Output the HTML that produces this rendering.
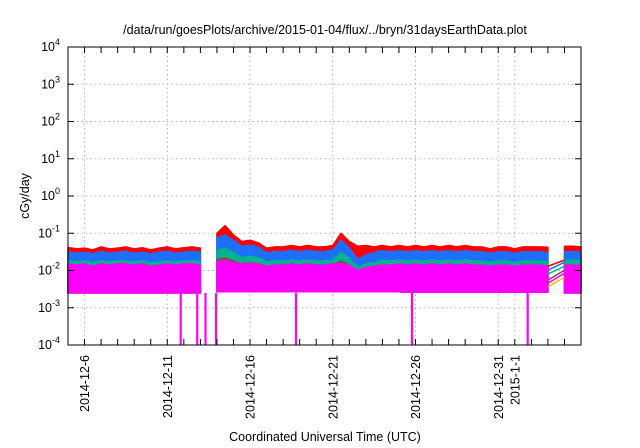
<!DOCTYPE html>
<html><head><meta charset="utf-8"><style>
html,body{margin:0;padding:0;background:#fff;}
svg{display:block;font-family:"Liberation Sans",sans-serif;}
</style></head><body>
<svg id="chart" width="640" height="448">
<text x="325" y="34" text-anchor="middle" font-size="12.5">/data/run/goesPlots/archive/2015-01-04/flux/../bryn/31daysEarthData.plot</text>
<text x="325" y="441" text-anchor="middle" font-size="12.5">Coordinated Universal Time (UTC)</text>
<text transform="translate(29,196) rotate(-90)" text-anchor="middle" font-size="12.5">cGy/day</text>
<g id="grid"></g><g id="series"></g><g id="axes"></g>
</svg>
<script>
const days=[0,0.5,1,1.5,2,2.5,3,3.5,4,4.5,5,5.5,6,6.5,7,7.5,8,8.5,9,9.5,10,10.5,11,11.5,12,12.5,13,13.5,14,14.5,15,15.5,16,16.5,17,17.5,18,18.5,19,19.5,20,20.5,21,21.5,22,22.5,23,23.5,24,24.5,25,25.5,26,26.5,27,27.5,28,28.5,29,30,30.5,31];
const red=[.042,.038,.04,.036,.043,.038,.04,.043,.038, .041,.036,.04,.043,.038,.041,.043,.04, null, .1,.16,.09,.06,.065,.055,.04, .043,.043,.047,.043,.047,.043,.043,.047, .1,.06,.045,.047,.043,.047,.043,.047, .043,.047,.043,.047,.043,.047,.043,.047, .043,.043,.038,.043,.043,.038,.043,.043,.043,.042, .045,.045,.043];
const blue=[.032,.029,.031,.028,.033,.029,.031,.033,.029, .031,.028,.031,.033,.029,.031,.033,.031, null, .075,.09,.065,.045,.048,.042,.03, .032,.032,.035,.032,.035,.032,.032,.035, .065,.04,.02,.026,.03,.034,.032,.034, .032,.034,.032,.034,.032,.034,.032,.034, .032,.032,.029,.032,.032,.029,.032,.032,.032,.03, .032,.032,.031];
const teal=[.018,.017,.018,.016,.018,.017,.018,.018,.017, .018,.016,.017,.018,.017,.018,.018,.017, null, .035,.04,.03,.022,.024,.022,.017, .018,.018,.019,.018,.019,.018,.018,.019, .03,.021,.012,.015,.016,.019,.018,.019, .018,.019,.018,.019,.018,.019,.018,.019, .018,.018,.016,.018,.018,.016,.018,.018,.018,.017, .019,.019,.018];
const brown=[.013,.012,.013,.012,.013,.012,.013,.013,.012, .013,.012,.012,.013,.012,.013,.013,.012, null, .02,.022,.018,.015,.016,.015,.012, .013,.013,.014,.013,.014,.013,.013,.014, .018,.014,.009,.011,.012,.013,.013,.014, .013,.014,.013,.014,.013,.014,.013,.014, .013,.013,.012,.013,.013,.012,.013,.013,.013,.012, .014,.014,.013];
const magTop=[.015,.014,.015,.013,.015,.014,.015,.015,.014, .015,.013,.014,.015,.014,.015,.015,.014, null, .017,.018,.016,.015,.015,.015,.013, .014,.014,.015,.014,.015,.014,.014,.015, .015,.014,.01,.012,.013,.014,.014,.015, .014,.015,.014,.015,.014,.015,.014,.015, .014,.014,.013,.014,.014,.013,.014,.014,.014,.013, .014,.014,.014];
const magBottom=[.0025,.0025,.0025,.0025,.0025,.0025,.0025,.0025,.0025, .0025,.0025,.0025,.0025,.0025,.0025,.0025,.0025, null, .0027,.0027,.0027,.0027,.0027,.0027,.0027, .0027,.0027,.0027,.0027,.0027,.0027,.0027,.0027, .0027,.0027,.0027,.0027,.0027,.0027,.0027,.0027, .0026,.0026,.0026,.0026,.0026,.0026,.0026,.0026, .0026,.0026,.0026,.0026,.0026,.0026,.0026,.0026,.0026,.0026, .0025,.0025,.0025];
// connector lines across the Jan 3-4 data gap (start at day 29, end at day 30)
const gapColors=['#ff0000','#1f6fff','#00b38f','#8a4a5e','#ff00ff','#e6c800'];
const gapStart=[.013,.0102,.008,.0055,.0045,.0036];
const gapEnd=[.019,.0166,.013,.0102,.0085,.0066];
const spikeDays=[6.81,7.81,8.31,8.95,13.78,20.79,27.78];
const spikeValue=[0.0001,0.0001,0.0001,0.0001,0.0001,0.0001,0.0001];
const yTickExp=[-4,-3,-2,-1,0,1,2,3,4];
const xLabels=["2014-12-6","2014-12-11","2014-12-16","2014-12-21","2014-12-26","2014-12-31","2015-1-1"];
const xLabelDays=[1,6,11,16,21,26,27];

const L=68,R=581,T=47,B=345,D0=0,D1=31;
const NS='http://www.w3.org/2000/svg';
const x=d=>L+(d-D0)/(D1-D0)*(R-L);
const y=v=>B-(Math.log10(v)+4)/8*(B-T);
function mk(tag,attrs,parent){const e=document.createElementNS(NS,tag);for(const k in attrs)e.setAttribute(k,attrs[k]);parent.appendChild(e);return e;}
const grid=document.getElementById('grid'),ser=document.getElementById('series'),ax=document.getElementById('axes');

yTickExp.forEach(p=>{if(p>-4&&p<4){const l=mk('line',{x1:L,x2:R,y1:y(Math.pow(10,p)),y2:y(Math.pow(10,p)),stroke:'#b0b0b0','stroke-dasharray':'1.5,3','stroke-width':1},grid);

}});
xLabelDays.forEach(d=>{const l=mk('line',{x1:x(d),x2:x(d),y1:T,y2:B,stroke:'#b0b0b0','stroke-dasharray':'1.5,3','stroke-width':1},grid);

});

function segments(top){const segs=[];let cur=[];for(let i=0;i<days.length;i++){if(top[i]==null){if(cur.length)segs.push(cur);cur=[];continue;}
if(cur.length&&days[i]-days[cur[cur.length-1]]>0.6){segs.push(cur);cur=[];}cur.push(i);}if(cur.length)segs.push(cur);return segs;}
function area(top,bot,color,name){
  segments(top).forEach(s=>{let d='';s.forEach((i,k)=>{d+=(k?'L':'M')+x(days[i]).toFixed(1)+','+y(top[i]).toFixed(1);});
    for(let k=s.length-1;k>=0;k--){const i=s[k];d+='L'+x(days[i]).toFixed(1)+','+y(bot[i]).toFixed(1);}d+='Z';
    const p=mk('path',{d:d,fill:color,stroke:color,'stroke-width':1.5,'stroke-linejoin':'round'},ser);
    
    });
}
area(red,magBottom,'#ff0000','red-series');
area(blue,magBottom,'#1f6fff','blue-series');
area(teal,magBottom,'#00b38f','teal-series');
area(brown,magBottom,'#8a4a5e','brown-series');
area(magTop,magBottom,'#ff00ff','magenta-series');
gapColors.forEach((c,i)=>{const l=mk('line',{x1:x(29),y1:y(gapStart[i]),x2:x(30),y2:y(gapEnd[i]),stroke:c,'stroke-width':1.5},ser);

});
spikeDays.forEach((d,i)=>{const l=mk('line',{x1:x(d),x2:x(d),y1:y(magBottom[16]),y2:y(spikeValue[i]),stroke:'#ff00ff','stroke-width':2.2},ser);

});

const fr=mk('rect',{x:L,y:T,width:R-L,height:B-T,fill:'none',stroke:'#000','stroke-width':1},ax);


for(let d=1;d<31;d++){mk('line',{x1:x(d),x2:x(d),y1:B,y2:B-6,stroke:'#000'},ax);mk('line',{x1:x(d),x2:x(d),y1:T,y2:T+6,stroke:'#000'},ax);}
yTickExp.forEach(p=>{const yy=y(Math.pow(10,p));mk('line',{x1:L,x2:L+6,y1:yy,y2:yy,stroke:'#000'},ax);mk('line',{x1:R,x2:R-6,y1:yy,y2:yy,stroke:'#000'},ax);
  const t=mk('text',{x:L-8,y:yy+4,'text-anchor':'end','font-size':12.5},ax);
  
  
  t.appendChild(document.createTextNode('10'));
  const s=mk('tspan',{dy:-6,'font-size':9},t);s.textContent=String(p);});
xLabels.forEach((lab,i)=>{const xx=x(xLabelDays[i]);
  const t=mk('text',{transform:`translate(${xx+4.5},${B+10}) rotate(-90)`,'text-anchor':'end','font-size':12.5},ax);
  
  
  t.textContent=lab;});
</script>
</body></html>
